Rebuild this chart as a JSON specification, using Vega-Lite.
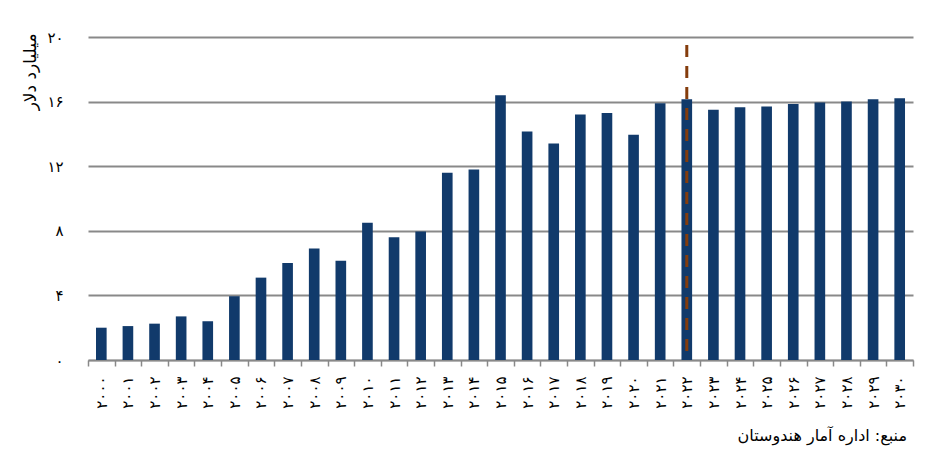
{
  "$schema": "https://vega.github.io/schema/vega-lite/v6.json",
  "width": 825,
  "height": 323,
  "autosize": {"type": "none"},
  "padding": {"left": 88, "top": 37, "right": 29, "bottom": 112},
  "background": "white",
  "title": {
    "text": "منبع: اداره آمار هندوستان",
    "orient": "bottom",
    "anchor": "end",
    "frame": "group",
    "dx": -6,
    "offset": 20,
    "fontSize": 16,
    "fontWeight": "normal",
    "color": "#000000",
    "font": "DejaVu Sans"
  },
  "data": {
    "values": [
      {"year": "۲۰۰۰", "value": 2.0},
      {"year": "۲۰۰۱", "value": 2.1},
      {"year": "۲۰۰۲", "value": 2.25},
      {"year": "۲۰۰۳", "value": 2.7},
      {"year": "۲۰۰۴", "value": 2.4},
      {"year": "۲۰۰۵", "value": 3.95},
      {"year": "۲۰۰۶", "value": 5.1},
      {"year": "۲۰۰۷", "value": 6.0},
      {"year": "۲۰۰۸", "value": 6.9},
      {"year": "۲۰۰۹", "value": 6.15},
      {"year": "۲۰۱۰", "value": 8.5},
      {"year": "۲۰۱۱", "value": 7.6},
      {"year": "۲۰۱۲", "value": 7.95},
      {"year": "۲۰۱۳", "value": 11.6},
      {"year": "۲۰۱۴", "value": 11.8},
      {"year": "۲۰۱۵", "value": 16.4},
      {"year": "۲۰۱۶", "value": 14.15},
      {"year": "۲۰۱۷", "value": 13.4},
      {"year": "۲۰۱۸", "value": 15.2},
      {"year": "۲۰۱۹", "value": 15.3},
      {"year": "۲۰۲۰", "value": 13.95},
      {"year": "۲۰۲۱", "value": 15.9},
      {"year": "۲۰۲۲", "value": 16.14},
      {"year": "۲۰۲۳", "value": 15.5},
      {"year": "۲۰۲۴", "value": 15.65},
      {"year": "۲۰۲۵", "value": 15.7},
      {"year": "۲۰۲۶", "value": 15.85},
      {"year": "۲۰۲۷", "value": 15.95},
      {"year": "۲۰۲۸", "value": 16.0},
      {"year": "۲۰۲۹", "value": 16.15},
      {"year": "۲۰۳۰", "value": 16.2}
    ]
  },
  "encoding": {
    "x": {
      "field": "year",
      "type": "nominal",
      "scale": {"paddingInner": 0, "paddingOuter": 0},
      "axis": {
        "title": null,
        "labelAngle": 270,
        "labelFontSize": 15,
        "labelColor": "#000000",
        "labelPadding": 10,
        "tickBand": "extent",
        "tickSize": 6,
        "tickWidth": 1.5,
        "tickColor": "#898989",
        "domainColor": "#898989",
        "domainWidth": 1.5,
        "grid": false
      }
    }
  },
  "layer": [
    {
      "mark": {"type": "bar", "color": "#113A6B", "width": {"band": 0.4}},
      "encoding": {
        "y": {
          "field": "value",
          "type": "quantitative",
          "scale": {"domain": [0, 20], "nice": false},
          "axis": {
            "values": [0, 4, 8, 12, 16, 20],
            "labelExpr": "datum.value == 0 ? '۰' : datum.value == 4 ? '۴' : datum.value == 8 ? '۸' : datum.value == 12 ? '۱۲' : datum.value == 16 ? '۱۶' : '۲۰'",
            "labelFontSize": 15,
            "labelColor": "#000000",
            "labelPadding": 25,
            "ticks": false,
            "domain": false,
            "grid": true,
            "gridColor": "#898989",
            "gridWidth": 2,
            "title": "میلیارد دلار",
            "titleAngle": 270,
            "titleX": -58,
            "titleY": -4,
            "titleAlign": "right",
            "titleBaseline": "middle",
            "titleFontSize": 17,
            "titleFontWeight": "normal",
            "titleColor": "#000000"
          }
        }
      }
    },
    {
      "transform": [{"filter": "datum.year == '۲۰۲۲'"}],
      "mark": {"type": "rule", "color": "#843C0C", "strokeWidth": 3, "strokeDash": [12, 9]},
      "encoding": {
        "y": {"datum": 19.5, "type": "quantitative"},
        "y2": {"datum": 0}
      }
    }
  ],
  "config": {
    "font": "DejaVu Sans",
    "view": {"stroke": null}
  }
}
